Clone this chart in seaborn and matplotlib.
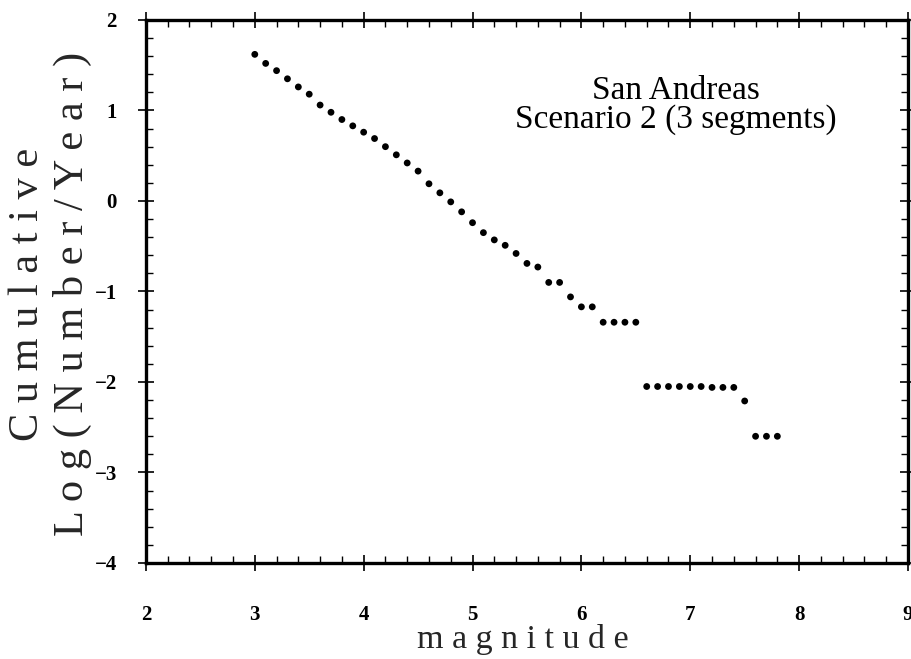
import matplotlib
matplotlib.use("Agg")
import matplotlib.pyplot as plt
import seaborn as sns
import pandas as pd
from matplotlib.ticker import MultipleLocator

magnitude = [3.0, 3.1, 3.2, 3.3, 3.4, 3.5, 3.6, 3.7, 3.8, 3.9,
             4.0, 4.1, 4.2, 4.3, 4.4, 4.5, 4.6, 4.7, 4.8, 4.9,
             5.0, 5.1, 5.2, 5.3, 5.4, 5.5, 5.6, 5.7, 5.8, 5.9,
             6.0, 6.1, 6.2, 6.3, 6.4, 6.5, 6.6, 6.7, 6.8, 6.9,
             7.0, 7.1, 7.2, 7.3, 7.4, 7.5, 7.6, 7.7, 7.8]
log_rate = [1.62, 1.52, 1.44, 1.35, 1.26, 1.18, 1.06, 0.98, 0.90, 0.83,
            0.76, 0.69, 0.60, 0.51, 0.42, 0.33, 0.19, 0.09, -0.01, -0.12,
            -0.24, -0.35, -0.43, -0.49, -0.58, -0.69, -0.73, -0.90, -0.90, -1.06,
            -1.17, -1.17, -1.34, -1.34, -1.34, -1.34, -2.05, -2.05, -2.05, -2.05,
            -2.05, -2.05, -2.06, -2.06, -2.06, -2.21, -2.60, -2.60, -2.60]

x_ticks = [2, 3, 4, 5, 6, 7, 8, 9]
y_ticks = [-4, -3, -2, -1, 0, 1, 2]

df = pd.DataFrame({"magnitude": magnitude, "log_rate": log_rate})

sns.set_theme(style="white")
plt.rcParams["font.family"] = ["Liberation Serif", "DejaVu Serif"]

fig = plt.figure(figsize=(9.12, 6.59), dpi=100)
ax = fig.add_axes([0.160, 0.1457, 0.8356, 0.824])

sns.scatterplot(data=df, x="magnitude", y="log_rate", ax=ax, color="black",
                s=24, edgecolor="none", legend=False)

ax.set_xlim(2, 9)
ax.set_ylim(-4, 2)
ax.set_xticks(x_ticks)
ax.set_yticks(y_ticks)
ax.set_xticklabels([str(t) for t in x_ticks], fontsize=15, fontweight="bold")
ax.set_yticklabels([str(t).replace("-", "\u2212") for t in y_ticks], fontsize=15, fontweight="bold")
ax.xaxis.set_minor_locator(MultipleLocator(0.2))
ax.yaxis.set_minor_locator(MultipleLocator(0.2))

for sp in ax.spines.values():
    sp.set_linewidth(2.4)
    sp.set_color("black")

ax.tick_params(which="major", direction="inout", length=12, width=1.2,
               top=True, right=True, bottom=True, left=True, colors="black")
ax.tick_params(which="minor", direction="in", length=5, width=1.0,
               top=True, right=True, bottom=True, left=True, colors="black")
ax.tick_params(axis="x", which="major", pad=24)
ax.tick_params(axis="y", which="major", pad=15)

ax.set_xlabel("m a g n i t u d e", fontsize=24.5)
ax.xaxis.label.set_va("baseline")
ax.xaxis.set_label_coords(0.494, -0.1565)

ax.set_ylabel("C u m u l a t i v e\nL o g ( N u m b e r / Y e a r )", fontsize=30.5,
              linespacing=1.2)
ax.yaxis.label.set_va("center")
ax.yaxis.set_label_coords(-0.126, 0.495)

ax.text(0.6955, 0.843, "San Andreas\nScenario 2 (3 segments)", transform=ax.transAxes,
        ha="center", va="center", fontsize=24, linespacing=0.95, color="black")

fig.savefig("out.png", dpi=100)
